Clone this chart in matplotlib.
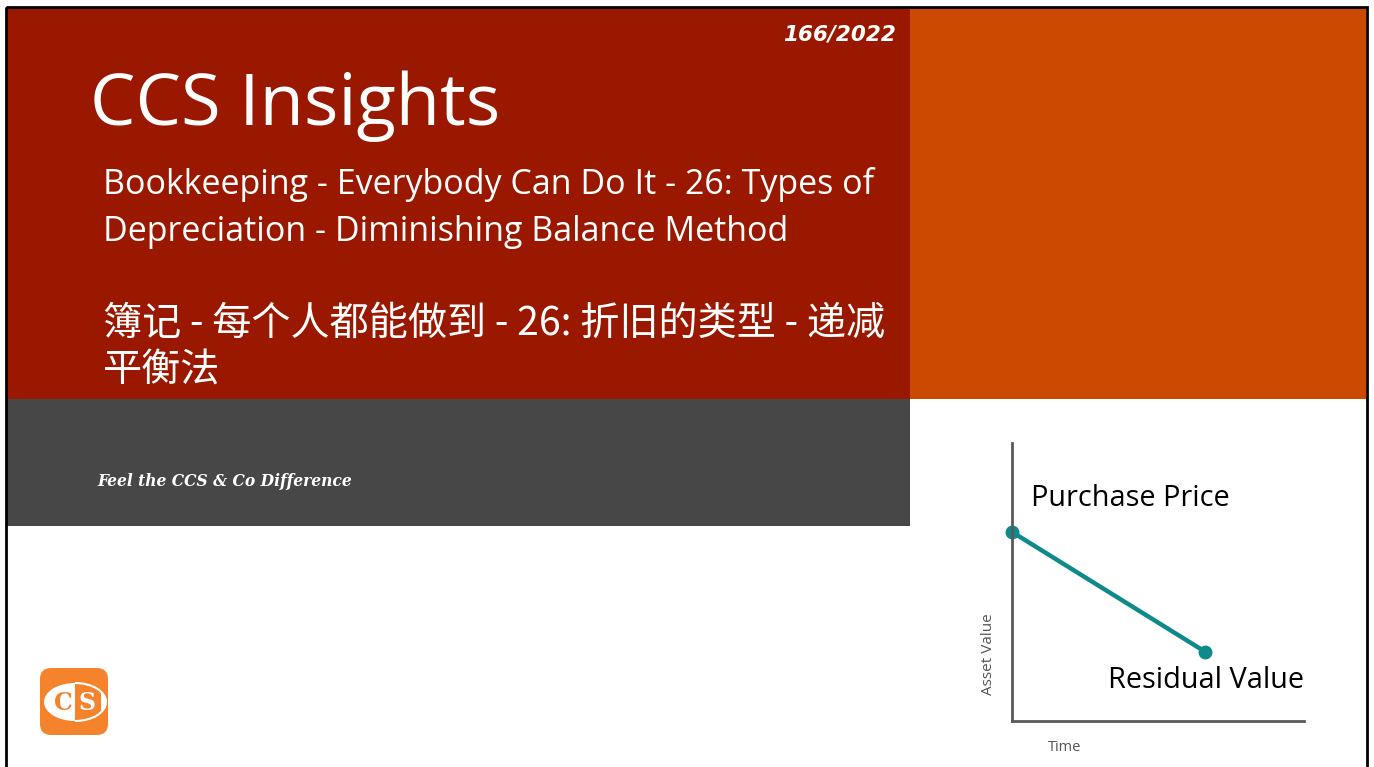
import matplotlib.pyplot as plt
from matplotlib.patches import Rectangle, FancyBboxPatch, Ellipse, Arc

# chart data (arbitrary units)
time_pts = [0.0, 0.66]
value_pts = [0.68, 0.25]
point_labels = ["Purchase Price", "Residual Value"]

title = "CCS Insights"
subtitle_en = ["Bookkeeping - Everybody Can Do It - 26: Types of",
               "Depreciation - Diminishing Balance Method"]
subtitle_zh = ["簿记 - 每个人都能做到 - 26: 折旧的类型 - 递减",
               "平衡法"]
issue = "166/2022"
tagline = "Feel the CCS & Co Difference"

W, H = 1374, 767
fig = plt.figure(figsize=(W / 100, H / 100), dpi=100)
fig.patch.set_facecolor("white")

# background layer in pixel coordinates
bg = fig.add_axes([0, 0, 1, 1])
bg.set_xlim(0, W)
bg.set_ylim(H, 0)
bg.axis("off")

bg.add_patch(Rectangle((7, 8), 903, 391, color="#9a1800", lw=0))
bg.add_patch(Rectangle((910, 8), 456, 391, color="#cc4902", lw=0))
bg.add_patch(Rectangle((7, 399), 903, 127, color="#474747", lw=0))
# slide border
bg.add_patch(Rectangle((6, 7), 1361, 775, fill=False, ec="black", lw=2))

sans = ["Open Sans", "DejaVu Sans"]
cjk = ["Noto Sans CJK SC", "DejaVu Sans"]

bg.text(90, 106, title, fontsize=52, color="white", family=sans, va="center")
bg.text(103, 184, subtitle_en[0], fontsize=24.5, color="white", family=sans, va="center")
bg.text(103, 232, subtitle_en[1], fontsize=24.5, color="white", family=sans, va="center")
bg.text(103, 324, subtitle_zh[0], fontsize=28.2, color="white", family=cjk, va="center")
bg.text(103, 371, subtitle_zh[1], fontsize=28.2, color="white", family=cjk, va="center")
bg.text(896, 35, issue, fontsize=15.5, color="white", family=["DejaVu Sans"],
        style="italic", fontweight="bold", ha="right", va="center")
bg.text(97, 481, tagline, fontsize=11.2, color="white", family=["DejaVu Serif"],
        style="italic", fontweight="bold", va="center")

# logo
orange = "#f5832b"
bg.add_patch(FancyBboxPatch((40, 668), 68, 67, boxstyle="round,pad=0,rounding_size=11",
                            fc=orange, ec="none"))
bg.add_patch(Ellipse((75, 702), 62, 38, fc="white", ec="none"))
bg.add_patch(Rectangle((75, 680), 26, 44, fc=orange, ec="none"))
bg.add_patch(Arc((75, 702), 62, 38, theta1=-90, theta2=90, color="white", lw=1.5))
bg.text(63, 703, "C", fontsize=17, color=orange, family=["DejaVu Serif"],
        fontweight="bold", ha="center", va="center")
bg.text(87, 703, "S", fontsize=17, color="white", family=["DejaVu Serif"],
        fontweight="bold", ha="center", va="center")

# the little depreciation chart
ax = fig.add_axes([1012 / W, 1 - 721 / H, 292 / W, 278 / H])
ax.set_xlim(0, 1)
ax.set_ylim(0, 1)
ax.patch.set_alpha(0)
for s in ["top", "right"]:
    ax.spines[s].set_visible(False)
for s in ["left", "bottom"]:
    ax.spines[s].set_color("#595959")
    ax.spines[s].set_linewidth(2)
ax.set_xticks([])
ax.set_yticks([])
ax.plot(time_pts, value_pts, color="#0f8a8a", lw=3.2, marker="o", ms=9, clip_on=False)
ax.set_xlabel("Time", fontsize=10.5, color="#555555", family=sans)
ax.xaxis.set_label_coords(0.18, -0.07)
ax.set_ylabel("Asset Value", fontsize=11, color="#555555", family=sans)
ax.yaxis.set_label_coords(-0.055, 0.24)
ax.text(time_pts[0] + 0.065, value_pts[0] + 0.12, point_labels[0], fontsize=20.8,
        family=sans, va="center")
ax.text(time_pts[1] + 0.34, value_pts[1] - 0.105, point_labels[1], fontsize=20.8,
        family=sans, va="center", ha="right")

fig.savefig("out.png", dpi=100)
